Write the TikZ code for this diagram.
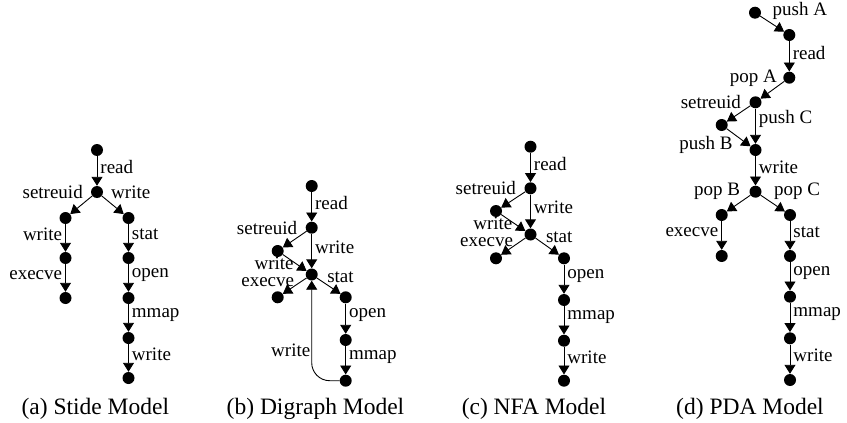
\documentclass[tikz,border=0pt]{standalone}
\usepackage{fontspec}
\setmainfont{Liberation Serif}
\usetikzlibrary{arrows.meta}
\begin{document}
\begin{tikzpicture}
    [x=1pt, y=-1pt,
    dot/.style = {circle, fill, inner sep=0pt, minimum size=12pt},
    arr/.style = {-{Triangle[length=9pt,width=11pt]}, line width=0.9pt},
    lbl/.style = {font=\fontsize{19}{19}\selectfont, inner xsep=3pt, inner ysep=0pt},
    caption/.style = {font=\fontsize{23.5}{24}\selectfont, anchor=base},
    sl/.style = {at start, anchor=east, xshift=-6pt, yshift=3.5pt},
    sr/.style = {at start, anchor=west, xshift=6pt, yshift=3.5pt},
    sbl/.style = {at start, anchor=east, xshift=-9pt, yshift=-4.5pt},
    sbr/.style = {at start, anchor=west, xshift=7pt, yshift=1pt},
    el/.style = {at end, anchor=east, xshift=-9.5pt, yshift=8pt}]
    \useasboundingbox (0,0) rectangle (847,423);
    % (a) stide
    \node[dot] (a1) at (97,150) {};
    \node[dot] (a2) at (97,192) {};
    \node[dot] (a3) at (65.5,218) {};
    \node[dot] (a4) at (128.5,218) {};
    \node[dot] (a5) at (65.5,258) {};
    \node[dot] (a6) at (65.5,298) {};
    \node[dot] (a7) at (128.5,258) {};
    \node[dot] (a8) at (128.5,298) {};
    \node[dot] (a9) at (128.5,338) {};
    \node[dot] (a10) at (128.5,378) {};
    \draw[arr] (a1) -- node[lbl,right,pos=.38] {read} (a2);
    \draw[arr] (a2) -- node[lbl,sl] {setreuid} (a3);
    \draw[arr] (a2) -- node[lbl,sr] {write} (a4);
    \draw[arr] (a3) -- node[lbl,left,pos=.38] {write} (a5);
    \draw[arr] (a5) -- node[lbl,left,pos=.38] {execve} (a6);
    \draw[arr] (a4) -- node[lbl,right,pos=.38] {stat} (a7);
    \draw[arr] (a7) -- node[lbl,right,pos=.38] {open} (a8);
    \draw[arr] (a8) -- node[lbl,right,pos=.38] {mmap} (a9);
    \draw[arr] (a9) -- node[lbl,right,pos=.38] {write} (a10);
    \node[caption] (capa) at (95.3,414) {(a) Stide Model};
    % (b) digraph
    \node[dot] (b1) at (311.7,186) {};
    \node[dot] (b2) at (311.7,227.7) {};
    \node[dot] (b3) at (277.7,251) {};
    \node[dot] (b4) at (311.7,274.5) {};
    \node[dot] (b5) at (277.7,297.3) {};
    \node[dot] (b6) at (345.7,297.3) {};
    \node[dot] (b7) at (345.7,340) {};
    \node[dot] (b8) at (345.7,380.7) {};
    \draw[arr] (b1) -- node[lbl,right,pos=.38] {read} (b2);
    \draw[arr] (b2) -- node[lbl,sl] {setreuid} (b3);
    \draw[arr] (b2) -- node[lbl,right,pos=.38] {write} (b4);
    \draw[arr] (b3) -- node[lbl,el] {write} (b4);
    \draw[arr] (b4) -- node[lbl,sbl] {execve} (b5);
    \draw[arr] (b4) -- node[lbl,sbr] {stat} (b6);
    \draw[arr] (b6) -- node[lbl,right,pos=.38] {open} (b7);
    \draw[arr] (b7) -- node[lbl,right,pos=.38] {mmap} (b8);
    \draw[arr, rounded corners=18pt] (b8) -| node[lbl,left,pos=.65,xshift=2pt] {write} (b4);
    \node[caption] (capb) at (315.5,414) {(b) Digraph Model};
    % (c) nfa
    \node[dot] (c1) at (530.5,146.7) {};
    \node[dot] (c2) at (530.5,188.3) {};
    \node[dot] (c3) at (496,211) {};
    \node[dot] (c4) at (530.5,234.5) {};
    \node[dot] (c5) at (496,258.3) {};
    \node[dot] (c6) at (564,258.3) {};
    \node[dot] (c7) at (564,300) {};
    \node[dot] (c8) at (564,340.7) {};
    \node[dot] (c9) at (564,380.7) {};
    \draw[arr] (c1) -- node[lbl,right,pos=.38] {read} (c2);
    \draw[arr] (c2) -- node[lbl,sl] {setreuid} (c3);
    \draw[arr] (c2) -- node[lbl,right,pos=.38] {write} (c4);
    \draw[arr] (c3) -- node[lbl,el] {write} (c4);
    \draw[arr] (c4) -- node[lbl,sbl] {execve} (c5);
    \draw[arr] (c4) -- node[lbl,sbr] {stat} (c6);
    \draw[arr] (c6) -- node[lbl,right,pos=.38] {open} (c7);
    \draw[arr] (c7) -- node[lbl,right,pos=.38] {mmap} (c8);
    \draw[arr] (c8) -- node[lbl,right,pos=.38] {write} (c9);
    \node[caption] (capc) at (534,414) {(c) NFA Model};
    % (d) pda
    \node[dot] (d1) at (755,12.7) {};
    \node[dot] (d2) at (789.3,35) {};
    \node[dot] (d3) at (789.3,77.7) {};
    \node[dot] (d4) at (755.5,102.3) {};
    \node[dot] (d5) at (721.7,125) {};
    \node[dot] (d6) at (755.5,150) {};
    \node[dot] (d7) at (755.5,191.7) {};
    \node[dot] (d8) at (721.7,215) {};
    \node[dot] (d9) at (790,215) {};
    \node[dot] (d10) at (721.7,256) {};
    \node[dot] (d11) at (790,256) {};
    \node[dot] (d12) at (790,296.7) {};
    \node[dot] (d13) at (790,338.3) {};
    \node[dot] (d14) at (790,380) {};
    \draw[arr] (d1) -- node[lbl,sr,xshift=3pt,yshift=2pt] {push A} (d2);
    \draw[arr] (d2) -- node[lbl,right,pos=.38] {read} (d3);
    \draw[arr] (d3) -- node[lbl,sl,xshift=2pt] {pop A} (d4);
    \draw[arr] (d4) -- node[lbl,sl] {setreuid} (d5);
    \draw[arr] (d4) -- node[lbl,right,pos=.3] {push C} (d6);
    \draw[arr] (d5) -- node[lbl,el,xshift=-5pt,yshift=-6.5pt] {push B} (d6);
    \draw[arr] (d6) -- node[lbl,right,pos=.38] {write} (d7);
    \draw[arr] (d7) -- node[lbl,sl,xshift=-1pt] {pop B} (d8);
    \draw[arr] (d7) -- node[lbl,sr,xshift=4pt] {pop C} (d9);
    \draw[arr] (d8) -- node[lbl,left,pos=.38] {execve} (d10);
    \draw[arr] (d9) -- node[lbl,right,pos=.38] {stat} (d11);
    \draw[arr] (d11) -- node[lbl,right,pos=.38] {open} (d12);
    \draw[arr] (d12) -- node[lbl,right,pos=.38] {mmap} (d13);
    \draw[arr] (d13) -- node[lbl,right,pos=.38] {write} (d14);
    \node[caption] (capd) at (750,414) {(d) PDA Model};
\end{tikzpicture}
\end{document}
